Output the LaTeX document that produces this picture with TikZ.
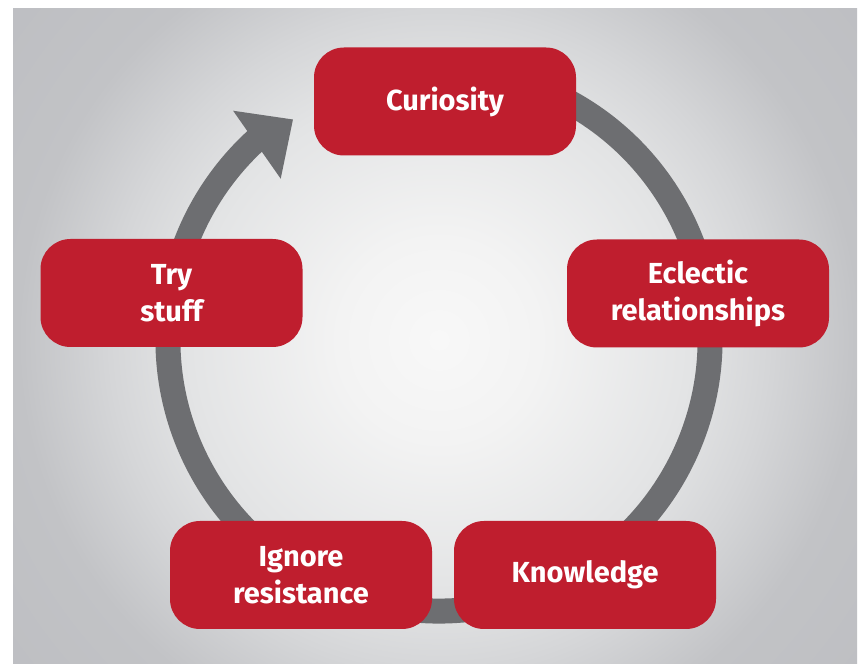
\documentclass[tikz,border=0pt]{standalone}
\usepackage{fontspec}
\setmainfont{Fira Sans}
\usetikzlibrary{calc}

\definecolor{crimson}{HTML}{BF1E2E}
\definecolor{ringgray}{HTML}{6D6E71}
\definecolor{bgc0}{HTML}{F8F8F8}
\definecolor{bgc1}{HTML}{F3F3F3}
\definecolor{bgc2}{HTML}{E3E4E5}
\definecolor{bgc3}{HTML}{D5D6D8}
\definecolor{bgc4}{HTML}{C2C3C6}
\definecolor{bgedge}{HTML}{BDBEC2}

% soft light centre fading to grey (25bp = edge of the shaded path)
\pgfdeclareradialshading{backdrop}{\pgfpoint{0bp}{0bp}}{%
  color(0bp)=(bgc0); color(4.5bp)=(bgc1); color(11.2bp)=(bgc2);
  color(14.7bp)=(bgc3); color(18.8bp)=(bgc4); color(25bp)=(bgedge);
  color(50bp)=(bgedge)}

\begin{document}
\begin{tikzpicture}[x=0.75pt,y=0.75pt,
  stage/.style={fill=crimson, rounded corners=22.5pt,
    minimum width=196.5pt, minimum height=81pt, inner sep=0pt,
    text=white, align=center,
    font=\fontsize{21.75}{27.75}\selectfont\bfseries},
  ring/.style={draw=ringgray, line width=18.75pt}]

\useasboundingbox (0,0) rectangle (864,664);
\fill[white] (0,0) rectangle (864,664);

% backdrop panel
\begin{scope}
  \clip (13,0) rectangle (857,655);
  \fill[bgedge] (13,0) rectangle (857,655);
  \shade[shading=backdrop] (439,324) circle (560);
\end{scope}

% the cycle ring with its arrowhead
\coordinate (c) at (439,324);
\coordinate (ringstart) at ($(c)+(70:271)$);
\draw[ring] (ringstart) arc[start angle=70, end angle=-228, radius=271];
\coordinate (base) at ($(c)+(133:267)$);
\coordinate (tip) at ($(base)+(35:44)$);
\coordinate (wingA) at ($(base)+(125:41.5)$);
\coordinate (wingB) at ($(base)+(-55:41.5)$);
\fill[ringgray] (tip) -- (wingA) -- (wingB) -- cycle;

% stages
\node[stage] (curiosity) at (445,562.5) {Curiosity};
\node[stage] (eclectic) at (698,370.5) {Eclectic\\relationships};
\node[stage] (knowledge) at (585,89) {Knowledge};
\node[stage] (ignore) at (301,89) {Ignore\\resistance};
\node[stage] (try) at (171.5,371) {Try\\stuff};
\end{tikzpicture}
\end{document}
